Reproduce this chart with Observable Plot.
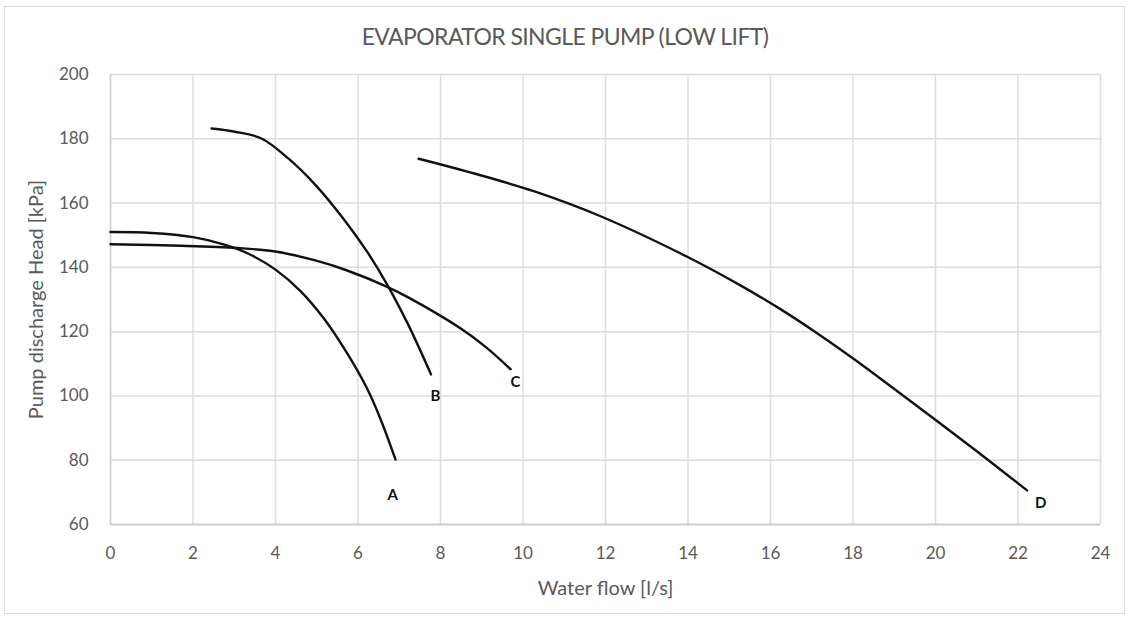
<!DOCTYPE html>
<html>
<head>
<meta charset="utf-8">
<script src="https://cdn.jsdelivr.net/npm/d3@7"></script>
<script src="https://cdn.jsdelivr.net/npm/@observablehq/plot@0.6"></script>
<style>
  html, body { margin: 0; padding: 0; background: #fff; }
  #wrap { position: relative; width: 1130px; height: 618px; overflow: hidden; font-family: Lato, "Open Sans", sans-serif; }
  #frame { position: absolute; left: 4px; top: 6px; width: 1121px; height: 608px; border: 1px solid #d9d9d9; box-sizing: border-box; pointer-events: none; }
  #title { position: absolute; left: 0; top: 22px; width: 1130px; text-align: center; font-size: 23px; line-height: 28px; color: #595959; letter-spacing: -0.6px; }
  #chart { position: absolute; left: 0; top: 60px; }
</style>
</head>
<body>
<div id="wrap">
  <div id="frame"></div>
  <div id="title">EVAPORATOR SINGLE PUMP (LOW LIFT)</div>
  <div id="chart"></div>
</div>
<script>
// Pump curves: water flow [l/s] vs pump discharge head [kPa]
const flowA = [0, 1, 2, 2.76, 3.32, 4.0, 4.6, 5.16, 5.72, 6.22, 6.54, 6.91];
const headA = [151, 150.7, 149.4, 147.1, 144.4, 139.3, 132.7, 124.3, 113.6, 102.3, 93.0, 80.2];

const flowB = [2.45, 3.02, 3.66, 4.31, 4.95, 5.66, 6.24, 6.7, 7.22, 7.77];
const headB = [183.2, 182.2, 180.1, 173.9, 165.9, 154.9, 144.5, 134.8, 122.1, 106.7];

const flowC = [0, 1.72, 3.08, 3.96, 4.92, 5.72, 6.68, 7.24, 8.5, 9.1, 9.7];
const headC = [147.2, 146.7, 146.0, 145.0, 142.3, 139.1, 134.1, 130.5, 120.9, 115.2, 108.3];

const flowD = [7.47, 8.65, 10.26, 11.88, 13.98, 15.27, 16.24, 17.05, 18.02, 19.31, 20.93, 22.22];
const headD = [173.8, 169.8, 163.7, 155.9, 143.3, 134.4, 127.0, 120.2, 111.5, 99.2, 83.5, 70.6];

const pumpNames = ["A", "B", "C", "D"];
const labelFlow = [6.84, 7.88, 9.82, 22.55];
const labelHead = [69.0, 99.8, 104.2, 66.5];

const xTicks = [0, 2, 4, 6, 8, 10, 12, 14, 16, 18, 20, 22, 24];
const yTicks = [60, 80, 100, 120, 140, 160, 180, 200];

const series = [
  {name: "A", flow: flowA, head: headA},
  {name: "B", flow: flowB, head: headB},
  {name: "C", flow: flowC, head: headC},
  {name: "D", flow: flowD, head: headD}
];
const curveRows = series.flatMap(s => s.flow.map((f, i) => ({pump: s.name, flow: f, head: s.head[i]})));
const labelRows = pumpNames.map((n, i) => ({pump: n, flow: labelFlow[i], head: labelHead[i]}));

const chart = Plot.plot({
  width: 1130,
  height: 558,
  marginTop: 14,
  marginBottom: 94,
  marginLeft: 110,
  marginRight: 30,
  style: {fontFamily: "Lato, 'Open Sans', sans-serif", fontSize: "17px", color: "#595959", background: "transparent"},
  x: {domain: [0, 24]},
  y: {domain: [60, 200]},
  marks: [
    Plot.gridX(xTicks, {stroke: "#dcdcdc", strokeOpacity: 1, strokeWidth: 1.5}),
    Plot.gridY(yTicks, {stroke: "#dcdcdc", strokeOpacity: 1, strokeWidth: 1.5}),
    Plot.ruleY([60], {stroke: "#c8c8c8", strokeWidth: 1.5}),
    Plot.ruleX([0], {stroke: "#d0d0d0", strokeWidth: 1.5}),
    Plot.axisX(xTicks, {tickSize: 0, tickPadding: 22, fontSize: 17, fill: "#595959", label: null}),
    Plot.axisX({ticks: [], tickSize: 0, fontSize: 20, fill: "#595959",
      label: "Water flow [l/s]", labelAnchor: "center", labelArrow: "none", labelOffset: 70}),
    Plot.axisY(yTicks, {tickSize: 0, tickPadding: 22, fontSize: 17, fill: "#595959", label: null}),
    Plot.axisY({ticks: [], tickSize: 0, fontSize: 20, fill: "#595959",
      label: "Pump discharge Head [kPa]", labelAnchor: "center", labelArrow: "none", labelOffset: 82}),
    Plot.line(curveRows, {x: "flow", y: "head", z: "pump", curve: "catmull-rom", stroke: "#111", strokeWidth: 2.4}),
    Plot.text(labelRows, {x: "flow", y: "head", text: "pump", fontSize: 15, fontWeight: "bold", fill: "#111"})
  ]
});
document.getElementById("chart").appendChild(chart);
</script>
</body>
</html>
